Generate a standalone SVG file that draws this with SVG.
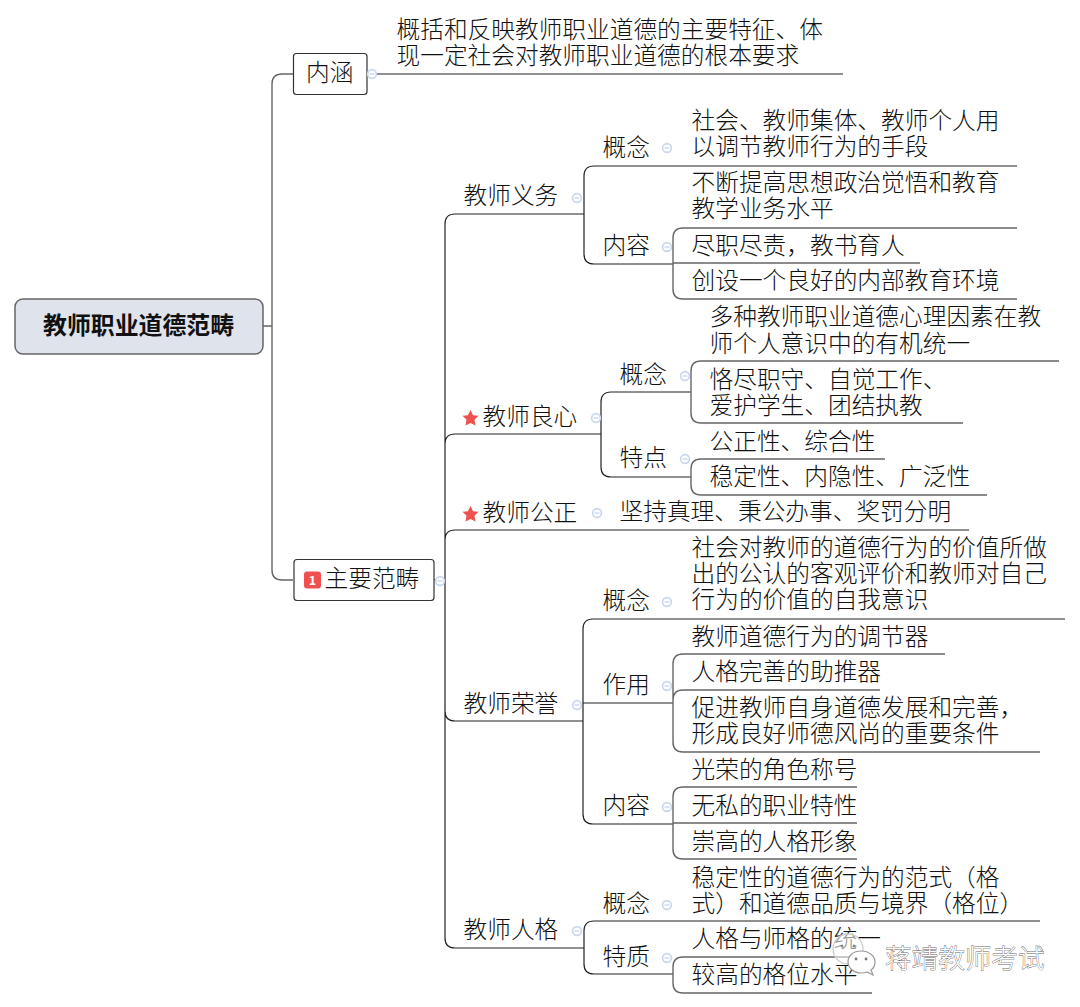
<svg xmlns="http://www.w3.org/2000/svg" width="1080" height="1007" viewBox="0 0 1080 1007">
<style>
text{font-family:"Noto Sans CJK SC","Liberation Sans",sans-serif;font-size:23.7px;fill:#111;font-weight:300}
.c{fill:none;stroke:#222;stroke-width:1.2}
.g{fill:none;stroke:#666;stroke-width:1.4}
.box{fill:#fff;stroke:#333;stroke-width:1.2}
.root{fill:#dee3ec;stroke:#666;stroke-width:1.5}
.rt{font-weight:700;font-size:23.9px;fill:#111}
.wm{fill:#fff;font-size:26.6px;stroke:#666;stroke-width:.8;paint-order:stroke}
.ic{fill:#fff;stroke:#c9d6f0;stroke-width:1.6}
.im{stroke:#c9d6f0;stroke-width:1.4}
.star{fill:#f15050}
</style>
<defs>
<g id="tog"><circle class="ic" r="4.4"/><path class="im" d="M-2.5 0H2.5"/></g>
<polygon id="st" class="star" points="0,-8 2.6,-2.8 8,-2.2 4,1.8 5,7.6 0,5 -5,7.6 -4,1.8 -8,-2.2 -2.6,-2.8"/>
</defs>
<g id="connectors">
<path class="g" d="M263 326H272M293 74H282Q272 74 272 84V570Q272 580 282 580H293"/>
<path class="c" d="M367 74H377M377 74H843"/>
<path class="c" d="M434 580H445M584 214H455Q445 214 445 224V938Q445 948 455 948H584M601 434H455Q445 434 445 444M445 540Q445 530 455 530H969M445 711Q445 721 455 721H583"/>
<path class="c" d="M1017 166H594Q584 166 584 176V254Q584 264 594 264H673"/>
<path class="g" d="M683 228Q673 228 673 238V289Q673 299 683 299H1017M673 263H920M683 228H1017"/>
<path class="c" d="M691 392H611Q601 392 601 402V467Q601 477 611 477H691"/>
<path class="g" d="M1059 361H701Q691 361 691 371V413Q691 423 701 423H963"/>
<path class="g" d="M885 459H701Q691 459 691 469V485Q691 495 701 495H987"/>
<path class="c" d="M1065 619H593Q583 619 583 629V814Q583 824 593 824H673M583 703H673"/>
<path class="g" d="M945 654H683Q673 654 673 664V742Q673 752 683 752H1040M880 690H683Q673 690 673 700"/>
<path class="g" d="M857 787H683Q673 787 673 797V849Q673 859 683 859H857M673 823H857"/>
<path class="c" d="M1040 921H594Q584 921 584 931V964Q584 974 594 974H673"/>
<path class="g" d="M872 957H683Q673 957 673 967V983Q673 993 683 993H872"/>
</g>
<g id="root"><rect class="root" x="15" y="299" width="248" height="55" rx="8"/><text class="rt" x="43" y="334">教师职业道德范畴</text></g>
<g id="neihan"><rect class="box" x="293.5" y="53.5" width="73.5" height="41" rx="3"/><text x="306" y="81">内涵</text><use href="#tog" x="372" y="74"/></g>
<g id="neihan-text"><text><tspan x="396.5" y="38">概括和反映教师职业道德的主要特征、体</tspan><tspan x="396.5" y="64">现一定社会对教师职业道德的根本要求</tspan></text></g>
<g id="zhuyao"><rect class="box" x="294" y="559.5" width="140" height="41" rx="3"/><rect x="304" y="571.5" width="17" height="17" rx="3" fill="#f15050"/><text x="312.5" y="585" style="font-size:12.5px;font-weight:700;fill:#fff" text-anchor="middle">1</text><text x="324.5" y="587">主要范畴</text><use href="#tog" x="440" y="581"/></g>

<g id="yiwu"><text x="463.5" y="204">教师义务</text><use href="#tog" x="577" y="198"/></g>
<g id="yiwu-gainian"><text x="602.5" y="156">概念</text><use href="#tog" x="667" y="148"/></g>
<g id="yiwu-gainian-t"><text><tspan x="691.5" y="129">社会、教师集体、教师个人用</tspan><tspan x="691.5" y="155">以调节教师行为的手段</tspan></text></g>
<g id="yiwu-neirong"><text x="602.5" y="254">内容</text><use href="#tog" x="667" y="247"/></g>
<g id="yiwu-n1"><text><tspan x="691.5" y="191">不断提高思想政治觉悟和教育</tspan><tspan x="691.5" y="217">教学业务水平</tspan></text></g>
<g id="yiwu-n2"><text x="691.5" y="254">尽职尽责，教书育人</text></g>
<g id="yiwu-n3"><text x="691.5" y="289">创设一个良好的内部教育环境</text></g>

<g id="liangxin"><use href="#st" x="470.5" y="418"/><text x="482.5" y="425">教师良心</text><use href="#tog" x="596" y="418"/></g>
<g id="lx-gainian"><text x="619.5" y="383">概念</text><use href="#tog" x="685" y="376"/></g>
<g id="lx-g1"><text><tspan x="709.5" y="325">多种教师职业道德心理因素在教</tspan><tspan x="709.5" y="352">师个人意识中的有机统一</tspan></text></g>
<g id="lx-g2"><text><tspan x="709.5" y="388">恪尽职守、自觉工作、</tspan><tspan x="709.5" y="414">爱护学生、团结执教</tspan></text></g>
<g id="lx-tedian"><text x="619.5" y="466">特点</text><use href="#tog" x="685" y="459"/></g>
<g id="lx-t1"><text x="709.5" y="450">公正性、综合性</text></g>
<g id="lx-t2"><text x="709.5" y="485">稳定性、内隐性、广泛性</text></g>

<g id="gongzheng"><use href="#st" x="470.5" y="514"/><text x="482.5" y="521">教师公正</text><use href="#tog" x="597" y="513"/></g>
<g id="gz-t"><text x="619.5" y="520">坚持真理、秉公办事、奖罚分明</text></g>

<g id="rongyu"><text x="463.5" y="712">教师荣誉</text><use href="#tog" x="577" y="705"/></g>
<g id="ry-gainian"><text x="602.5" y="609">概念</text><use href="#tog" x="667" y="602"/></g>
<g id="ry-g1"><text><tspan x="691.5" y="556">社会对教师的道德行为的价值所做</tspan><tspan x="691.5" y="582">出的公认的客观评价和教师对自己</tspan><tspan x="691.5" y="608">行为的价值的自我意识</tspan></text></g>
<g id="ry-zuoyong"><text x="602.5" y="693">作用</text><use href="#tog" x="667" y="686"/></g>
<g id="ry-z1"><text x="691.5" y="645">教师道德行为的调节器</text></g>
<g id="ry-z2"><text x="691.5" y="680">人格完善的助推器</text></g>
<g id="ry-z3"><text><tspan x="691.5" y="716">促进教师自身道德发展和完善，</tspan><tspan x="691.5" y="742">形成良好师德风尚的重要条件</tspan></text></g>
<g id="ry-neirong"><text x="602.5" y="814">内容</text><use href="#tog" x="667" y="807"/></g>
<g id="ry-n1"><text x="691.5" y="778">光荣的角色称号</text></g>
<g id="ry-n2"><text x="691.5" y="814">无私的职业特性</text></g>
<g id="ry-n3"><text x="691.5" y="850">崇高的人格形象</text></g>

<g id="renge"><text x="463.5" y="938">教师人格</text><use href="#tog" x="577" y="931"/></g>
<g id="rg-gainian"><text x="602.5" y="912">概念</text><use href="#tog" x="667" y="905"/></g>
<g id="rg-g1"><text><tspan x="691.5" y="886">稳定性的道德行为的范式（格</tspan><tspan x="691.5" y="912">式）和道德品质与境界（格位）</tspan></text></g>
<g id="rg-tezhi"><text x="602.5" y="965">特质</text><use href="#tog" x="667" y="958"/></g>
<g id="rg-t1"><text x="691.5" y="947">人格与师格的统一</text></g>
<g id="rg-t2"><text x="691.5" y="983">较高的格位水平</text></g>

<g id="watermark">
<circle cx="848" cy="949" r="15" fill="#fff" fill-opacity=".55" stroke="#ccc" stroke-width="1.3"/>
<circle cx="842" cy="946" r="1.5" fill="#888"/><circle cx="854" cy="946" r="1.5" fill="#888"/>
<path d="M861 951C853 951 848 956 848 962C848 968 854 973 861 973C863 973 865 973 867 972L873 975L871 970C874 968 875 965 875 962C875 956 869 951 861 951Z" fill="#fff" stroke="#999" stroke-width="1.2"/>
<circle cx="856" cy="959" r="1.4" fill="#777"/><circle cx="866" cy="959" r="1.4" fill="#777"/>
<text class="wm" x="885" y="968">蒋靖教师考试</text>
</g>
</svg>
